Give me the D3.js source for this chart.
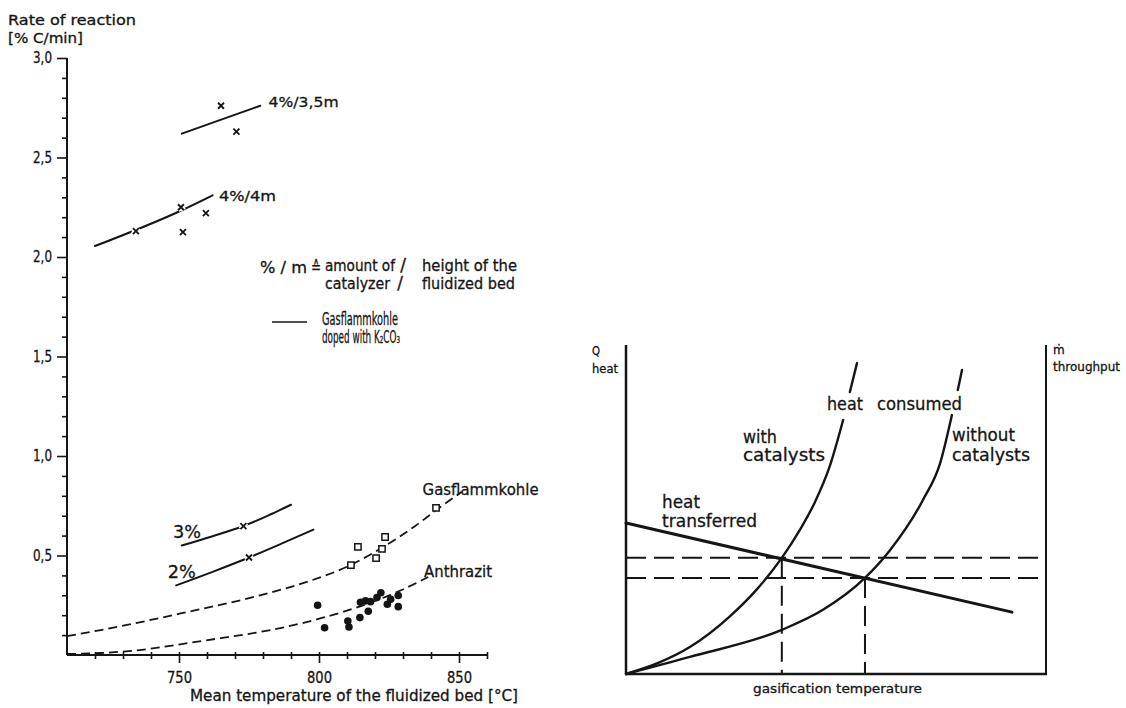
<!DOCTYPE html>
<html>
<head>
<meta charset="utf-8">
<script src="https://cdn.jsdelivr.net/npm/d3@7/dist/d3.min.js"></script>
<style>
  html, body { margin: 0; padding: 0; background: #fff; }
  svg { display: block; }
  text { font-family: "DejaVu Sans", "Noto Sans", sans-serif; fill: #151515; stroke: #151515; stroke-width: 0.3px; }
</style>
</head>
<body>
<svg id="fig" width="1126" height="708"></svg>
<script>
// ---------- Left panel: rate of reaction vs. mean bed temperature ----------
const yMajorTicks = [0.5, 1.0, 1.5, 2.0, 2.5, 3.0];
const yTickLabels = ["0,5", "1,0", "1,5", "2,0", "2,5", "3,0"];
const yMinorTicks = [0.1, 0.2, 0.3, 0.4, 0.6, 0.7, 0.8, 0.9, 1.1, 1.2, 1.3, 1.4,
                     1.6, 1.7, 1.8, 1.9, 2.1, 2.2, 2.3, 2.4, 2.6, 2.7, 2.8, 2.9];
const xMajorTicks = [750, 800, 850];
const xTickLabels = ["750", "800", "850"];
const xMinorTicks = [720, 730, 740, 760, 770, 780, 790, 810, 820, 830, 840, 860];

// Gasflammkohle doped with K2CO3 – fitted lines [°C, %C/min]
const fit4pct35m = [[751, 2.62], [779, 2.76]];
const fit4pct4m  = [[720, 2.055], [751, 2.235], [762, 2.31]];
const fit3pct    = [[751, 0.55], [762, 0.597], [773, 0.648], [782, 0.702], [790, 0.755]];
const fit2pct    = [[749, 0.35], [762, 0.418], [775, 0.49], [787, 0.562], [798, 0.63]];

// measured runs (crosses)
const runs4pct35m = [[765, 2.76], [770.5, 2.63]];
const runs4pct4m  = [[734.6, 2.13], [750.7, 2.25], [759.6, 2.22], [751.4, 2.125]];
const runs3pct    = [[773, 0.648]];
const runs2pct    = [[775, 0.49]];

// undoped coals – trend curves and measurements
const gasflammCurve = [[710, 0.095], [722, 0.125], [751, 0.21], [779, 0.30], [794, 0.36],
                       [811, 0.45], [822, 0.535], [834, 0.645], [843, 0.74], [851, 0.82]];
const gasflammRuns  = [[811.4, 0.452], [813.9, 0.543], [820.4, 0.487], [822.5, 0.533],
                       [823.6, 0.593], [841.8, 0.739]];
const anthrazitCurve = [[710, 0.005], [722, 0.01], [736, 0.025], [751, 0.055], [765, 0.085],
                        [779, 0.116], [794, 0.16], [801, 0.186], [816, 0.251], [828, 0.317],
                        [839, 0.392]];
const anthrazitRuns = [[799.5, 0.25], [802.0, 0.137], [810.3, 0.171], [810.7, 0.141],
                       [814.6, 0.188], [817.6, 0.22], [814.8, 0.265], [816.6, 0.272],
                       [818.4, 0.268], [820.7, 0.289], [822.1, 0.313], [824.4, 0.255],
                       [825.6, 0.28], [828.3, 0.299], [828.3, 0.243]];

// ---------- Right panel: heat balance schematic (relative units) ----------
const withCatLower    = [[0, 0], [8.1, 3.6], [15.2, 8.2], [24.8, 17.6], [31.2, 25.8],
                         [37.1, 35.3], [41.4, 43.8], [45, 52.3], [48.6, 63.5], [51.7, 77.2]];
const withCatUpper    = [[53.3, 85.7], [55, 94.5]];
const withoutCatLower = [[0, 0], [15.2, 5.2], [37.1, 13.4], [46.9, 19.5], [56.9, 29.2],
                         [62.9, 37.7], [70.7, 52.9], [74.8, 64.1], [77.6, 78.7]];
const withoutCatUpper = [[79, 86.3], [80, 92.4]];
const heatTransferred = [[0, 45.9], [91.9, 18.8]];
const operatingPoints = [[37.1, 35.3], [56.9, 29.2]];

const INK = "#151515";
const svg = d3.select("#fig");

function txt(parent, s, x, y, size, width, anchor) {
  const t = parent.append("text")
    .attr("x", x).attr("y", y)
    .attr("font-size", size)
    .attr("text-anchor", anchor || "start")
    .text(s);
  if (width) t.attr("textLength", width).attr("lengthAdjust", "spacingAndGlyphs");
  return t;
}

// ================= Left panel =================
const x = d3.scaleLinear().domain([710, 860]).range([67, 487]);
const y = d3.scaleLinear().domain([0, 3]).range([655, 58]);
const L = svg.append("g");

// y axis
const yMinor = d3.axisLeft(y).tickValues(yMinorTicks).tickSize(5).tickSizeOuter(0).tickFormat("");
const yMajor = d3.axisLeft(y).tickValues(yMajorTicks).tickSize(10).tickSizeOuter(0).tickPadding(5)
  .tickFormat((d, i) => yTickLabels[i]);
const gyMinor = L.append("g").attr("transform", `translate(${x(710)},0)`).call(yMinor);
const gyMajor = L.append("g").attr("transform", `translate(${x(710)},0)`).call(yMajor);
[gyMinor, gyMajor].forEach(g => {
  g.select(".domain").remove();
  g.selectAll("line").attr("stroke", INK).attr("stroke-width", 1.6);
});
gyMajor.selectAll("text").attr("font-size", 15).attr("fill", INK)
  .attr("font-family", "DejaVu Sans")
  .attr("textLength", 19).attr("lengthAdjust", "spacingAndGlyphs");
L.append("line").attr("x1", x(710)).attr("x2", x(710)).attr("y1", y(3)).attr("y2", y(0))
  .attr("stroke", INK).attr("stroke-width", 2);

// x axis
const xMinor = d3.axisBottom(x).tickValues(xMinorTicks).tickSize(4).tickSizeOuter(0).tickFormat("");
const xMajor = d3.axisBottom(x).tickValues(xMajorTicks).tickSize(8).tickSizeOuter(0)
  .tickFormat((d, i) => xTickLabels[i]);
const gxMinor = L.append("g").attr("transform", `translate(0,${y(0)})`).call(xMinor);
const gxMajor = L.append("g").attr("transform", `translate(0,${y(0)})`).call(xMajor);
[gxMinor, gxMajor].forEach(g => {
  g.select(".domain").remove();
  g.selectAll("line").attr("y1", -3).attr("stroke", INK).attr("stroke-width", 1.6);
});
gxMajor.selectAll("text").attr("y", 17).attr("font-size", 16).attr("fill", INK)
  .attr("font-family", "DejaVu Sans")
  .attr("textLength", 25).attr("lengthAdjust", "spacingAndGlyphs");
L.append("line").attr("x1", x(710)).attr("x2", x(860)).attr("y1", y(0)).attr("y2", y(0))
  .attr("stroke", INK).attr("stroke-width", 2);

// axis titles
txt(L, "Rate of reaction", 8, 25, 14, 128);
txt(L, "[% C/min]", 8, 43, 14, 75);
txt(L, "Mean temperature of the fluidized bed [°C]", 190, 701, 15, 328);

const lineL = d3.line().x(d => x(d[0])).y(d => y(d[1])).curve(d3.curveMonotoneX);

// dashed trend curves for undoped coal
[gasflammCurve, anthrazitCurve].forEach(c => {
  L.append("path").attr("d", lineL(c)).attr("fill", "none")
    .attr("stroke", INK).attr("stroke-width", 1.8).attr("stroke-dasharray", "9,5");
});

// solid fitted lines for doped coal
[fit4pct35m, fit4pct4m, fit3pct, fit2pct].forEach(c => {
  L.append("path").attr("d", lineL(c)).attr("fill", "none")
    .attr("stroke", INK).attr("stroke-width", 2).attr("stroke-linecap", "round");
});

// crosses (with a white halo so lines break around them)
const crossPath = "M-3,-3L3,3M-3,3L3,-3";
const allCrosses = [].concat(runs4pct35m, runs4pct4m, runs3pct, runs2pct);
const gc = L.append("g");
allCrosses.forEach(d => {
  const t = `translate(${x(d[0])},${y(d[1])})`;
  gc.append("path").attr("d", crossPath).attr("transform", t)
    .attr("stroke", "#fff").attr("stroke-width", 5);
  gc.append("path").attr("d", crossPath).attr("transform", t)
    .attr("stroke", INK).attr("stroke-width", 1.8);
});

// open squares: Gasflammkohle
L.append("g").selectAll("path").data(gasflammRuns).join("path")
  .attr("d", d3.symbol(d3.symbolSquare, 40))
  .attr("transform", d => `translate(${x(d[0])},${y(d[1])})`)
  .attr("fill", "#fff").attr("stroke", INK).attr("stroke-width", 1.5);

// filled dots: Anthrazit
L.append("g").selectAll("circle").data(anthrazitRuns).join("circle")
  .attr("cx", d => x(d[0])).attr("cy", d => y(d[1])).attr("r", 3.8)
  .attr("fill", INK);

// curve labels
txt(L, "4%/3,5m", x(782), y(2.754), 14, 70);
txt(L, "4%/4m", x(764.3), y(2.28), 14, 57);
txt(L, "3%", x(747.9), y(0.59), 18, 28);
txt(L, "2%", x(746), y(0.385), 18, 28);
txt(L, "Gasflammkohle", x(837), y(0.804), 16, 116);
txt(L, "Anthrazit", x(837.5), y(0.392), 16, 68);

// legend / key
txt(L, "% / m", 260, 273, 15, 47);
txt(L, "\u2259", 311, 273, 17, 10);
txt(L, "amount of", 325, 271, 15, 70);
txt(L, "catalyzer", 325, 289, 15, 65);
txt(L, "/", 403, 271, 17, null, "middle");
txt(L, "/", 400, 289, 17, null, "middle");
txt(L, "height of the", 422, 271, 15, 95);
txt(L, "fluidized bed", 422, 289, 15, 93);
L.append("line").attr("x1", 272).attr("x2", 307).attr("y1", 322).attr("y2", 322)
  .attr("stroke", INK).attr("stroke-width", 1.5);
txt(L, "Gasflammkohle", 322, 325, 17, 76);
txt(L, "doped with K\u2082CO\u2083", 322, 343, 17, 78);

// ================= Right panel =================
const xr = d3.scaleLinear().domain([0, 100]).range([626, 1046]);
const yr = d3.scaleLinear().domain([0, 100]).range([674, 345]);
const R = svg.append("g");
const lineR = d3.line().x(d => xr(d[0])).y(d => yr(d[1])).curve(d3.curveMonotoneX);

// dashed guide lines at the two operating points
operatingPoints.forEach(p => {
  R.append("line").attr("x1", xr(0)).attr("x2", xr(100)).attr("y1", yr(p[1])).attr("y2", yr(p[1]))
    .attr("stroke", INK).attr("stroke-width", 2).attr("stroke-dasharray", "20,8");
  R.append("line").attr("x1", xr(p[0])).attr("x2", xr(p[0])).attr("y1", yr(p[1])).attr("y2", yr(0))
    .attr("stroke", INK).attr("stroke-width", 2).attr("stroke-dasharray", "20,8");
});

// frame
R.append("line").attr("x1", xr(0)).attr("x2", xr(0)).attr("y1", yr(100)).attr("y2", yr(0))
  .attr("stroke", INK).attr("stroke-width", 2.5);
R.append("line").attr("x1", xr(100)).attr("x2", xr(100)).attr("y1", yr(100)).attr("y2", yr(0))
  .attr("stroke", INK).attr("stroke-width", 2);
R.append("line").attr("x1", xr(0) - 1).attr("x2", xr(100) + 1).attr("y1", yr(0)).attr("y2", yr(0))
  .attr("stroke", INK).attr("stroke-width", 2.5);

// heat consumed curves
[withCatLower, withCatUpper, withoutCatLower, withoutCatUpper].forEach(c => {
  R.append("path").attr("d", lineR(c)).attr("fill", "none")
    .attr("stroke", INK).attr("stroke-width", 2.4).attr("stroke-linecap", "round");
});
// heat transferred line
R.append("path").attr("d", lineR(heatTransferred)).attr("fill", "none")
  .attr("stroke", INK).attr("stroke-width", 3).attr("stroke-linecap", "round");

// labels
txt(R, "Q", 592, 355, 12, 8);
txt(R, "heat", 592, 373, 12, 26);
txt(R, "\u1E41", 1053, 354, 12);
txt(R, "throughput", 1053, 371, 12, 67);
txt(R, "heat", 827, 410, 18, 36);
txt(R, "consumed", 877, 410, 18, 85);
txt(R, "with", 743, 443, 17, 34);
txt(R, "catalysts", 743, 461, 17, 82);
txt(R, "without", 952, 441, 17, 63);
txt(R, "catalysts", 952, 461, 17, 78);
txt(R, "heat", 662, 508, 17, 38);
txt(R, "transferred", 662, 527, 17, 95);
txt(R, "gasification  temperature", 753, 693, 13, 169);
</script>
</body>
</html>
